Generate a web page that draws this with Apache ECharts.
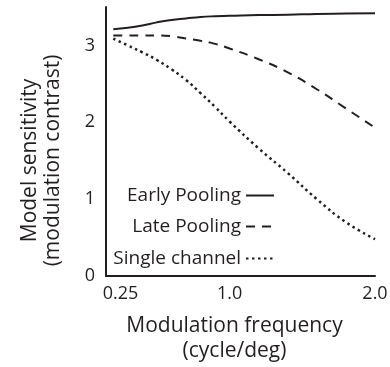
<!DOCTYPE html>
<html>
<head>
<meta charset="utf-8">
<script src="https://cdn.jsdelivr.net/npm/echarts@6/dist/echarts.min.js"></script>
<style>
  html, body { margin: 0; padding: 0; background: #fff; }
  #chart { width: 390px; height: 367px; }
</style>
</head>
<body>
<div id="chart"></div>
<script>
// Modulation frequency (cycle/deg) at which each curve is sampled
const frequencies = [0.2, 0.3, 0.4, 0.5, 0.6, 0.7, 0.8, 0.9, 1.0, 1.2, 1.4, 1.6, 1.8, 2.0];

// Model sensitivity (modulation contrast) per pooling model
const earlyPooling  = [3.21, 3.23, 3.26, 3.30, 3.33, 3.35, 3.37, 3.38, 3.385, 3.395, 3.40, 3.41, 3.415, 3.42];
const latePooling   = [3.13, 3.13, 3.13, 3.13, 3.12, 3.09, 3.06, 3.02, 2.96, 2.82, 2.65, 2.43, 2.18, 1.93];
const singleChannel = [3.09, 3.00, 2.91, 2.81, 2.69, 2.55, 2.38, 2.20, 2.01, 1.66, 1.34, 1.00, 0.70, 0.48];

const seriesNames = ['Early Pooling', 'Late Pooling', 'Single channel'];

// Tick positions and their printed labels
const xTickValues = [0.25, 1.0, 2.0];
const xTickLabels = ['0.25', '1.0', '2.0'];
const yTickValues = [0, 1, 2, 3];

const FONT = 'Open Sans';
const INK = '#231f20';

function pairs(values) {
  return frequencies.map((f, i) => [f, values[i]]);
}

function lineSeries(name, values, dash, width) {
  return {
    name: name,
    type: 'line',
    data: pairs(values),
    smooth: true,
    symbol: 'none',
    silent: true,
    color: INK,
    itemStyle: { color: INK },
    lineStyle: { color: INK, width: width, type: dash, cap: 'butt' }
  };
}

// One legend per entry so the line samples line up on their right edge
function singleLegend(name, top) {
  return {
    data: [name],
    right: 115,
    top: top,
    align: 'right',
    orient: 'horizontal',
    itemWidth: 28,
    itemHeight: 14,
    selectedMode: false,
    padding: 0,
    itemStyle: { opacity: 0 },
    textStyle: { fontFamily: FONT, fontSize: 19, color: INK }
  };
}

const chart = echarts.init(document.getElementById('chart'), null, { renderer: 'canvas' });

chart.setOption({
  animation: false,
  backgroundColor: '#fff',
  grid: { left: 106, right: 15, top: 7, bottom: 91, containLabel: false, outerBoundsMode: 'none' },
  legend: [
    singleLegend(seriesNames[0], 186),
    singleLegend(seriesNames[1], 217),
    singleLegend(seriesNames[2], 249)
  ],
  xAxis: {
    type: 'value',
    min: 0.15,
    max: 2.0,
    name: 'Modulation frequency\n(cycle/deg)',
    nameLocation: 'middle',
    nameGap: 38,
    nameTextStyle: { fontFamily: FONT, fontSize: 21, color: INK, lineHeight: 25, padding: [0, 12, 0, 0] },
    axisLine: { show: true, lineStyle: { color: INK, width: 2 } },
    axisTick: { show: false },
    splitLine: { show: false },
    axisLabel: {
      customValues: xTickValues,
      formatter: v => xTickLabels[xTickValues.indexOf(v)] ?? '',
      fontFamily: FONT,
      fontSize: 18,
      color: INK,
      margin: 9,
      hideOverlap: false
    }
  },
  yAxis: {
    type: 'value',
    min: 0,
    max: 3.5,
    name: 'Model sensitivity\n(modulation contrast)',
    nameLocation: 'middle',
    nameGap: 41,
    nameTextStyle: { fontFamily: FONT, fontSize: 21, color: INK, lineHeight: 23, padding: [0, 38, 0, 0] },
    axisLine: { show: true, lineStyle: { color: INK, width: 2 } },
    axisTick: { show: false },
    splitLine: { show: false },
    axisLabel: {
      customValues: yTickValues,
      fontFamily: FONT,
      fontSize: 18,
      color: INK,
      margin: 11
    }
  },
  series: [
    lineSeries(seriesNames[0], earlyPooling, 'solid', 2),
    lineSeries(seriesNames[1], latePooling, [9, 7], 2),
    lineSeries(seriesNames[2], singleChannel, [2.5, 3.5], 2.5)
  ]
});
</script>
</body>
</html>
